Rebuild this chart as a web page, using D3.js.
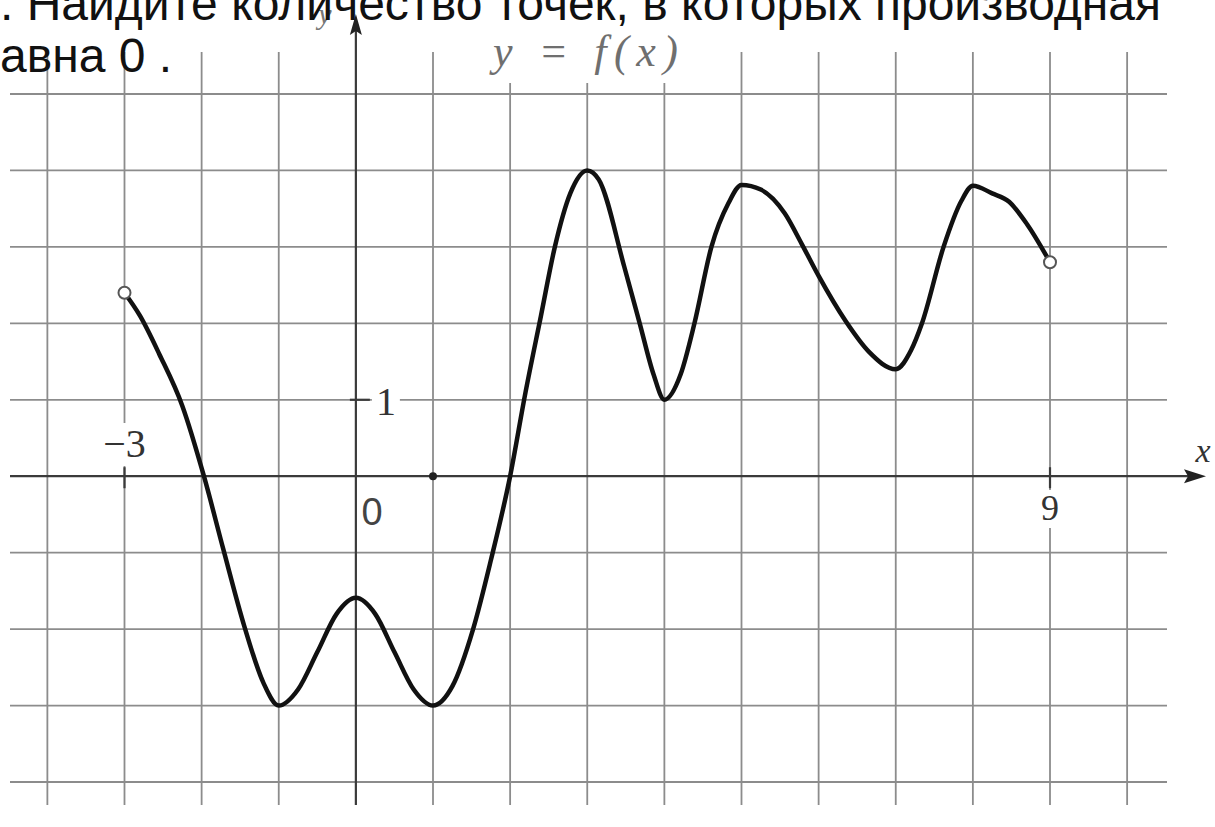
<!DOCTYPE html>
<html>
  <head>
    <meta charset="UTF-8">
    <script src="https://d3js.org/d3.v7.min.js"></script>
    <style>
      body { margin: 0; background: #fff; }
      svg { display: block; }
    </style>
  </head>
  <body>
    <svg width="1215" height="827"></svg>
    <script>
      // points (x and y in grid units)
      const curveX = [-3, -2.8, -2.55, -2.25, -1.97, -1.72, -1.45, -1.2, -1,
        -0.75, -0.5, -0.25, 0, 0.25, 0.5, 0.75, 1,
        1.25, 1.52, 1.75, 2.0, 2.2, 2.4, 2.58, 2.78, 3,
        3.15, 3.48, 3.68, 3.86, 4,
        4.21, 4.39, 4.61, 4.83, 5,
        5.25, 5.56, 5.78, 6.0, 6.35, 6.65, 7,
        7.2, 7.34, 7.62, 7.85, 8,
        8.25, 8.47, 8.7, 9];
      const curveY = [2.4, 2.1, 1.6, 0.92, 0, -0.95, -1.95, -2.7, -3,
        -2.79, -2.3, -1.8, -1.59, -1.8, -2.3, -2.79, -3,
        -2.75, -2.0, -1.1, 0, 1.1, 2.1, 3.0, 3.7, 4,
        3.88, 2.74, 2, 1.33, 1,
        1.33, 2, 3, 3.57, 3.81,
        3.75, 3.44, 3.04, 2.62, 2.03, 1.63, 1.4,
        1.65, 2, 3, 3.6, 3.8,
        3.7, 3.59, 3.3, 2.8];
      const gridX = d3.range(-4, 11);
      const gridY = d3.range(-4, 6);
      const openEnds = [[-3, 2.4], [9, 2.8]];
      const questionLines = [". Найдите количество точек, в которых производная", "авна 0 ."];

      const svg = d3.select("svg");
      const x = d3.scaleLinear().domain([-3, 9]).range([124.5, 1050]);
      const y = d3.scaleLinear().domain([-4, 5]).range([782, 94]);
      const serif = "'Liberation Serif', 'DejaVu Serif', serif";

      // grid
      const grid = svg.append("g")
        .attr("stroke", "#8c8c8c")
        .attr("stroke-width", 1.8);
      grid.selectAll("line.v")
        .data(gridX.filter((d) => d !== 0))
        .join("line")
        .attr("class", "v")
        .attr("x1", (d) => x(d)).attr("x2", (d) => x(d))
        .attr("y1", 52).attr("y2", 805);
      grid.selectAll("line.h")
        .data(gridY.filter((d) => d !== 0))
        .join("line")
        .attr("class", "h")
        .attr("x1", 10).attr("x2", 1167)
        .attr("y1", (d) => y(d)).attr("y2", (d) => y(d));

      // white boxes behind the axis numbers (the scan breaks the grid there)
      const boxes = svg.append("g").attr("fill", "#fff");

      // axes
      const axes = svg.append("g").attr("stroke", "#3a3a3a").attr("stroke-width", 2.2);
      axes.append("line")
        .attr("x1", 10).attr("x2", 1190)
        .attr("y1", y(0)).attr("y2", y(0));
      axes.append("line")
        .attr("x1", x(0)).attr("x2", x(0))
        .attr("y1", 805).attr("y2", 28);
      svg.append("path")
        .attr("d", `M${1206},${y(0)} L${1184},${y(0) - 7} L${1188},${y(0)} L${1184},${y(0) + 7} Z`)
        .attr("fill", "#222");
      svg.append("path")
        .attr("d", `M${x(0)},${14} L${x(0) - 6},${35} L${x(0)},${31} L${x(0) + 6},${35} Z`)
        .attr("fill", "#222");

      // ticks
      axes.selectAll("line.tx")
        .data([-3, 9])
        .join("line")
        .attr("class", "tx")
        .attr("x1", (d) => x(d)).attr("x2", (d) => x(d))
        .attr("y1", y(0) - 9).attr("y2", y(0) + 12);
      axes.append("line")
        .attr("x1", x(0) - 6).attr("x2", x(0) + 14)
        .attr("y1", y(1)).attr("y2", y(1));
      svg.append("circle")
        .attr("cx", x(1)).attr("cy", y(0)).attr("r", 4).attr("fill", "#222");

      function label(tx, ty, str, size, opts = {}) {
        const t = svg.append("text")
          .attr("x", tx).attr("y", ty)
          .attr("text-anchor", "middle")
          .attr("font-family", opts.family || serif)
          .attr("font-style", opts.italic ? "italic" : "normal")
          .attr("font-size", size)
          .attr("fill", opts.fill || "#333")
          .text(str);
        if (opts.box) {
          const b = t.node().getBBox();
          boxes.append("rect")
            .attr("x", b.x - 4).attr("y", b.y + 2)
            .attr("width", b.width + 8).attr("height", b.height - 2);
        }
        return t;
      }
      label(x(-3), 457, "−3", 40, { box: true });
      label(x(0) + 30, y(1) + 15, "1", 40, { box: true });
      label(372, 525, "0", 38, { family: "'Liberation Sans', Arial, sans-serif", fill: "#444" });
      label(x(9), 520, "9", 36, { box: true });
      label(1203, 462, "x", 34, { italic: true });
      label(325, 24, "y", 30, { italic: true, fill: "#777" });

      svg.append("rect")
        .attr("x", 485).attr("y", 28).attr("width", 200).attr("height", 55)
        .attr("fill", "#fff");
      svg.append("text")
        .attr("x", 493).attr("y", 66)
        .attr("font-family", serif).attr("font-style", "italic").attr("font-size", 44)
        .attr("fill", "#6f6f6f")
        .attr("textLength", 185).attr("lengthAdjust", "spacing")
        .text("y = f(x)");

      // curve
      const line = d3.line()
        .x((d, i) => x(curveX[i]))
        .y((d, i) => y(curveY[i]))
        .curve(d3.curveMonotoneX);
      svg.append("path")
        .datum(curveX)
        .attr("d", line)
        .attr("fill", "none")
        .attr("stroke", "#111")
        .attr("stroke-width", 4.5)
        .attr("stroke-linejoin", "round");

      svg.selectAll("circle.end")
        .data(openEnds)
        .join("circle")
        .attr("class", "end")
        .attr("cx", (d) => x(d[0])).attr("cy", (d) => y(d[1]))
        .attr("r", 6)
        .attr("fill", "#fff")
        .attr("stroke", "#555")
        .attr("stroke-width", 2);

      // question text
      svg.selectAll("text.q")
        .data(questionLines)
        .join("text")
        .attr("class", "q")
        .attr("x", 0)
        .attr("y", (d, i) => 20 + i * 52)
        .attr("font-family", "'Liberation Sans', Arial, sans-serif")
        .attr("font-size", 48)
        .attr("fill", "#111")
        .text((d) => d);
    </script>
  </body>
</html>
